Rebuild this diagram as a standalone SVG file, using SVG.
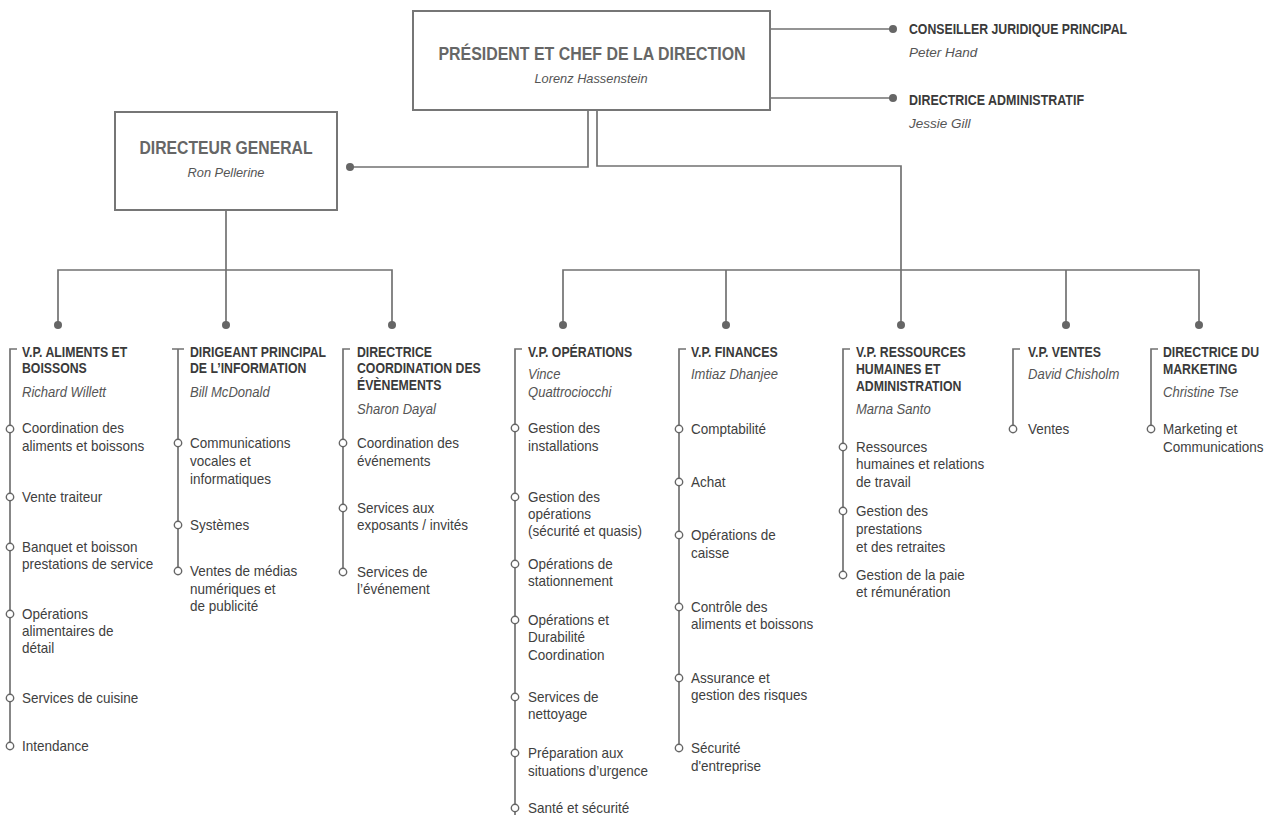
<svg xmlns="http://www.w3.org/2000/svg" width="1275" height="815" viewBox="0 0 1275 815">
<style>
.box{fill:#fff;stroke:#767676;stroke-width:2}
.ln{stroke:#727272;stroke-width:1.7;fill:none}
.dot{fill:#666}
.oc{fill:#fff;stroke:#666;stroke-width:1.4}
text{font-family:"Liberation Sans",Arial,sans-serif}
.bt{font-weight:bold;font-size:18.5px;fill:#666}
.tt{font-weight:bold;font-size:14.5px;fill:#3a3a3a}
.t{font-weight:bold;font-size:15px;fill:#3a3a3a}
.n{font-style:italic;font-size:14.5px;fill:#555}
.nt{font-style:italic;font-size:13.5px;fill:#555}
.i{font-size:15px;fill:#404040}
</style>
<rect width="1275" height="815" fill="#fff"/>
<g id="connectors">
<path class="ln" d="M770 29H893M770 98H893"/>
<path class="ln" d="M588 110V167H350M597 110V166H901V325"/>
<path class="ln" d="M563 325V270H1199V325M726 270V325M1066 270V325"/>
<path class="ln" d="M226 210V325M58 325V270H392V325"/>
<circle class="dot" cx="893" cy="29" r="4"/>
<circle class="dot" cx="893" cy="98" r="4"/>
<circle class="dot" cx="350" cy="167" r="4"/>
<circle class="dot" cx="58" cy="325" r="4"/>
<circle class="dot" cx="226" cy="325" r="4"/>
<circle class="dot" cx="392" cy="325" r="4"/>
<circle class="dot" cx="563" cy="325" r="4"/>
<circle class="dot" cx="726" cy="325" r="4"/>
<circle class="dot" cx="901" cy="325" r="4"/>
<circle class="dot" cx="1066" cy="325" r="4"/>
<circle class="dot" cx="1199" cy="325" r="4"/>
</g>
<g id="president">
<rect class="box" x="413" y="11" width="357" height="99"/>
<text class="bt" x="592" y="60" text-anchor="middle" textLength="307" lengthAdjust="spacingAndGlyphs">PRÉSIDENT ET CHEF DE LA DIRECTION</text>
<text class="nt" x="591" y="83" text-anchor="middle" textLength="113" lengthAdjust="spacingAndGlyphs">Lorenz Hassenstein</text>
</g>
<g id="conseiller">
<text class="tt" x="909" y="34" textLength="218" lengthAdjust="spacingAndGlyphs">CONSEILLER JURIDIQUE PRINCIPAL</text>
<text class="nt" x="909" y="57">Peter Hand</text>
</g>
<g id="administratif">
<text class="tt" x="909" y="105" textLength="175" lengthAdjust="spacingAndGlyphs">DIRECTRICE ADMINISTRATIF</text>
<text class="nt" x="909" y="128">Jessie Gill</text>
</g>
<g id="directeur-general">
<rect class="box" x="115" y="112" width="222" height="98"/>
<text class="bt" x="226" y="154" text-anchor="middle" textLength="173" lengthAdjust="spacingAndGlyphs">DIRECTEUR GENERAL</text>
<text class="nt" x="226" y="177" text-anchor="middle" textLength="77" lengthAdjust="spacingAndGlyphs">Ron Pellerine</text>
</g>
<g id="aliments">
<path class="ln" d="M17 349H10V746"/>
<circle class="oc" cx="10" cy="429" r="3.7"/><circle class="oc" cx="10" cy="497" r="3.7"/><circle class="oc" cx="10" cy="547" r="3.7"/><circle class="oc" cx="10" cy="614" r="3.7"/><circle class="oc" cx="10" cy="698" r="3.7"/><circle class="oc" cx="10" cy="746" r="3.7"/>
<g transform="translate(22 0) scale(0.9 1)">
<g transform="scale(0.91 1)"><text class="t" x="0" y="357">V.P. ALIMENTS ET</text><text class="t" x="0" y="373">BOISSONS</text></g>
<text class="n" x="0" y="397">Richard Willett</text>
<text class="i" x="0" y="433">Coordination des</text><text class="i" x="0" y="451">aliments et boissons</text>
<text class="i" x="0" y="502">Vente traiteur</text>
<text class="i" x="0" y="552">Banquet et boisson</text><text class="i" x="0" y="569">prestations de service</text>
<text class="i" x="0" y="619">Opérations</text><text class="i" x="0" y="636">alimentaires de</text><text class="i" x="0" y="653">détail</text>
<text class="i" x="0" y="703">Services de cuisine</text>
<text class="i" x="0" y="751">Intendance</text>
</g>
</g>
<g id="information">
<path class="ln" d="M172 349H184M178 349V571"/>
<circle class="oc" cx="178" cy="443" r="3.7"/><circle class="oc" cx="178" cy="525" r="3.7"/><circle class="oc" cx="178" cy="571" r="3.7"/>
<g transform="translate(190 0) scale(0.9 1)">
<g transform="scale(0.91 1)"><text class="t" x="0" y="357">DIRIGEANT PRINCIPAL</text><text class="t" x="0" y="373">DE L’INFORMATION</text></g>
<text class="n" x="0" y="397">Bill McDonald</text>
<text class="i" x="0" y="448">Communications</text><text class="i" x="0" y="466">vocales et</text><text class="i" x="0" y="484">informatiques</text>
<text class="i" x="0" y="530">Systèmes</text>
<text class="i" x="0" y="576">Ventes de médias</text><text class="i" x="0" y="594">numériques et</text><text class="i" x="0" y="611">de publicité</text>
</g>
</g>
<g id="evenements">
<path class="ln" d="M350 349H343V572"/>
<circle class="oc" cx="343" cy="443" r="3.7"/><circle class="oc" cx="343" cy="508" r="3.7"/><circle class="oc" cx="343" cy="572" r="3.7"/>
<g transform="translate(357 0) scale(0.9 1)">
<g transform="scale(0.91 1)"><text class="t" x="0" y="357">DIRECTRICE</text><text class="t" x="0" y="373.5">COORDINATION DES</text><text class="t" x="0" y="390">ÉVÈNEMENTS</text></g>
<text class="n" x="0" y="414">Sharon Dayal</text>
<text class="i" x="0" y="448">Coordination des</text><text class="i" x="0" y="466">événements</text>
<text class="i" x="0" y="513">Services aux</text><text class="i" x="0" y="530">exposants / invités</text>
<text class="i" x="0" y="577">Services de</text><text class="i" x="0" y="594">l’événement</text>
</g>
</g>
<g id="operations">
<path class="ln" d="M522 349H515V815"/>
<circle class="oc" cx="515" cy="428" r="3.7"/><circle class="oc" cx="515" cy="497" r="3.7"/><circle class="oc" cx="515" cy="564" r="3.7"/><circle class="oc" cx="515" cy="620" r="3.7"/><circle class="oc" cx="515" cy="697" r="3.7"/><circle class="oc" cx="515" cy="753" r="3.7"/><circle class="oc" cx="515" cy="808" r="3.7"/>
<g transform="translate(528 0) scale(0.9 1)">
<g transform="scale(0.91 1)"><text class="t" x="0" y="357">V.P. OPÉRATIONS</text></g>
<text class="n" x="0" y="379">Vince</text><text class="n" x="0" y="397">Quattrociocchi</text>
<text class="i" x="0" y="433">Gestion des</text><text class="i" x="0" y="451">installations</text>
<text class="i" x="0" y="502">Gestion des</text><text class="i" x="0" y="519">opérations</text><text class="i" x="0" y="536">(sécurité et quasis)</text>
<text class="i" x="0" y="569">Opérations de</text><text class="i" x="0" y="586">stationnement</text>
<text class="i" x="0" y="625">Opérations et</text><text class="i" x="0" y="642">Durabilité</text><text class="i" x="0" y="660">Coordination</text>
<text class="i" x="0" y="702">Services de</text><text class="i" x="0" y="719">nettoyage</text>
<text class="i" x="0" y="758">Préparation aux</text><text class="i" x="0" y="776">situations d’urgence</text>
<text class="i" x="0" y="813">Santé et sécurité</text>
</g>
</g>
<g id="finances">
<path class="ln" d="M686 349H679V748"/>
<circle class="oc" cx="679" cy="429" r="3.7"/><circle class="oc" cx="679" cy="482" r="3.7"/><circle class="oc" cx="679" cy="535" r="3.7"/><circle class="oc" cx="679" cy="607" r="3.7"/><circle class="oc" cx="679" cy="678" r="3.7"/><circle class="oc" cx="679" cy="748" r="3.7"/>
<g transform="translate(691 0) scale(0.9 1)">
<g transform="scale(0.91 1)"><text class="t" x="0" y="357">V.P. FINANCES</text></g>
<text class="n" x="0" y="379">Imtiaz Dhanjee</text>
<text class="i" x="0" y="434">Comptabilité</text>
<text class="i" x="0" y="487">Achat</text>
<text class="i" x="0" y="540">Opérations de</text><text class="i" x="0" y="558">caisse</text>
<text class="i" x="0" y="612">Contrôle des</text><text class="i" x="0" y="629">aliments et boissons</text>
<text class="i" x="0" y="683">Assurance et</text><text class="i" x="0" y="700">gestion des risques</text>
<text class="i" x="0" y="753">Sécurité</text><text class="i" x="0" y="771">d'entreprise</text>
</g>
</g>
<g id="ressources-humaines">
<path class="ln" d="M850 349H843V575"/>
<circle class="oc" cx="843" cy="447" r="3.7"/><circle class="oc" cx="843" cy="511" r="3.7"/><circle class="oc" cx="843" cy="575" r="3.7"/>
<g transform="translate(856 0) scale(0.9 1)">
<g transform="scale(0.91 1)"><text class="t" x="0" y="357">V.P. RESSOURCES</text><text class="t" x="0" y="374">HUMAINES ET</text><text class="t" x="0" y="391">ADMINISTRATION</text></g>
<text class="n" x="0" y="414">Marna Santo</text>
<text class="i" x="0" y="452">Ressources</text><text class="i" x="0" y="469">humaines et relations</text><text class="i" x="0" y="487">de travail</text>
<text class="i" x="0" y="516">Gestion des</text><text class="i" x="0" y="534">prestations</text><text class="i" x="0" y="552">et des retraites</text>
<text class="i" x="0" y="580">Gestion de la paie</text><text class="i" x="0" y="597">et rémunération</text>
</g>
</g>
<g id="ventes">
<path class="ln" d="M1020 349H1013V429"/>
<circle class="oc" cx="1013" cy="429" r="3.7"/>
<g transform="translate(1028 0) scale(0.9 1)">
<g transform="scale(0.91 1)"><text class="t" x="0" y="357">V.P. VENTES</text></g>
<text class="n" x="0" y="379">David Chisholm</text>
<text class="i" x="0" y="434">Ventes</text>
</g>
</g>
<g id="marketing">
<path class="ln" d="M1158 349H1151V429"/>
<circle class="oc" cx="1151" cy="429" r="3.7"/>
<g transform="translate(1163 0) scale(0.9 1)">
<g transform="scale(0.91 1)"><text class="t" x="0" y="357">DIRECTRICE DU</text><text class="t" x="0" y="374">MARKETING</text></g>
<text class="n" x="0" y="397">Christine Tse</text>
<text class="i" x="0" y="434">Marketing et</text><text class="i" x="0" y="452">Communications</text>
</g>
</g>
</svg>
